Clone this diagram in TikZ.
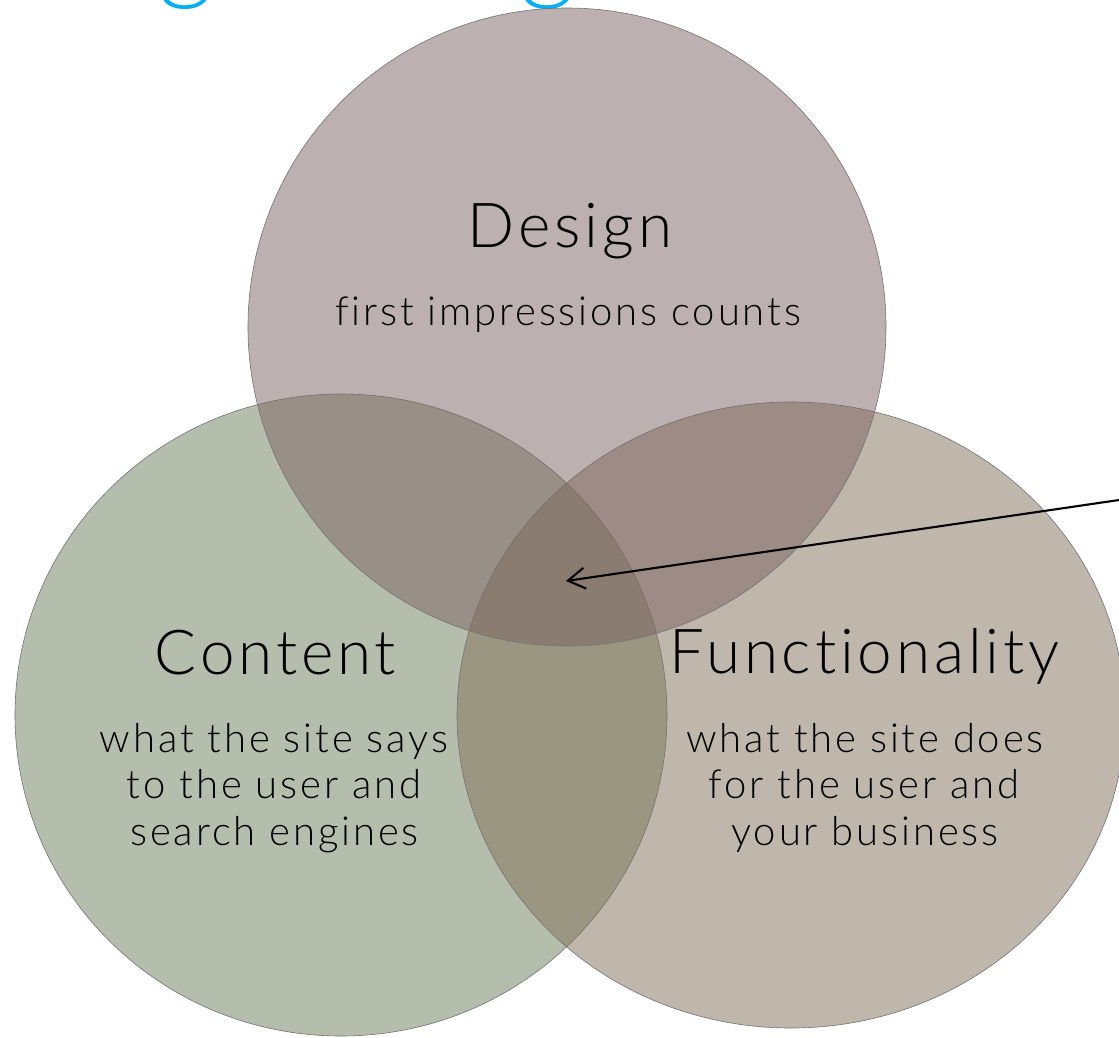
\documentclass[tikz,border=0pt]{standalone}
\usepackage{fontspec}
\setmainfont{Lato Light}[Ligatures=NoCommon]
\newfontfamily\headfont{Lato Light}[LetterSpace=6.2,Ligatures=NoCommon]
\newfontfamily\subfont{Lato Light}[LetterSpace=7.2,Ligatures=NoCommon]
\newfontfamily\cutfont{Lato Light}
\usetikzlibrary{shapes.geometric,arrows.meta}
\definecolor{designfill}{RGB}{125,99,99}
\definecolor{contentfill}{RGB}{109,127,91}
\definecolor{funcfill}{RGB}{129,112,89}
\definecolor{titlecyan}{RGB}{0,176,240}
\definecolor{rimgrey}{RGB}{115,115,115}
\begin{document}
\begin{tikzpicture}[x=1pt,y=-1pt,
  venn/.style={ellipse, draw=rimgrey, line width=0.6pt, fill opacity=0.5, inner sep=0pt, outer sep=0pt},
  head/.style={anchor=base, inner sep=0pt, font=\headfont\fontsize{62}{62}\selectfont},
  sub/.style={anchor=base, inner sep=0pt, font=\subfont\fontsize{40}{40}\selectfont},
  pointer/.style={line width=2.1pt, -{Straight Barb[length=17pt,width=21pt]}},
  cut/.style={anchor=base, inner sep=0pt, text=titlecyan, font=\cutfont\fontsize{108}{108}\selectfont}]
\useasboundingbox (0,0) rectangle (1119,1037);
\fill[white] (0,0) rectangle (1119,1037);
\node[cut] (cutA) at (186,-11) {g};
\node[cut] (cutB) at (548.5,-11) {g};
\node[venn, fill=contentfill, minimum width=652pt, minimum height=642pt] (content) at (341,715) {};
\node[venn, fill=funcfill, minimum width=668pt, minimum height=626pt] (func) at (791,715) {};
\node[venn, fill=designfill, minimum width=638pt, minimum height=638pt] (design) at (567,327) {};
\node[head] (designT) at (570,247) {Design};
\node[sub] (designS) at (568,325) {first impressions counts};
\node[head] (contentT) at (275.5,674) {Content};
\node[sub] (contentS1) at (274,752) {what the site says};
\node[sub] (contentS2) at (274,798) {to the user and};
\node[sub] (contentS3) at (274.5,845) {search engines};
\node[head] (funcT) at (864.5,673) {Functionality};
\node[sub] (funcS1) at (865,752) {what the site does};
\node[sub] (funcS2) at (864,798) {for the user and};
\node[sub] (funcS3) at (865,845) {your business};
\coordinate (ptrstart) at (1119,500);
\coordinate (ptrtip) at (566,581);
\draw[pointer] (ptrstart) -- (ptrtip);
\end{tikzpicture}
\end{document}
